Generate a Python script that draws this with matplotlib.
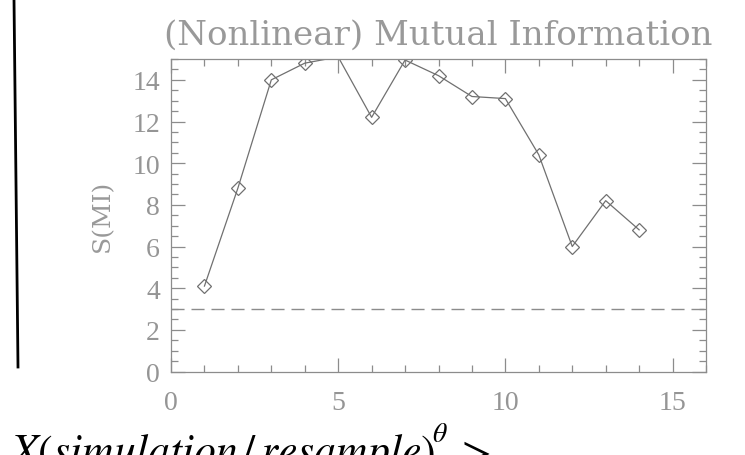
import matplotlib
matplotlib.use("Agg")
import matplotlib.pyplot as plt
from matplotlib.lines import Line2D
from matplotlib.ticker import MultipleLocator
import numpy as np

theta = [1, 2, 3, 4, 5, 6, 7, 8, 9, 10, 11, 12, 13, 14]
smi = [4.1, 8.8, 14.0, 14.8, 15.1, 12.2, 14.95, 14.2, 13.2, 13.1, 10.4, 6.0, 8.2, 6.8]
threshold = 3.0

gray = '#8c8c8c'
linegray = '#707070'

plt.rcParams['mathtext.fontset'] = 'stix'

fig = plt.figure(figsize=(7.45, 4.56), dpi=100)
ax = fig.add_axes([171/745, 1-372.5/456, (706-171)/745, (372.5-60)/456])

x = np.array(theta)
y = np.array(smi)
ax.plot(x, y, color=linegray, lw=0.9)
inside = y <= 15.0
ax.plot(x[inside], y[inside], ls='none', marker='D', ms=7.5, mfc='none',
        mec=linegray, mew=0.9)
ax.axhline(threshold, color=gray, lw=1, dashes=(9.4, 5))

ax.set_xlim(0, 16)
ax.set_ylim(0, 15)
ax.xaxis.set_major_locator(MultipleLocator(5))
ax.xaxis.set_minor_locator(MultipleLocator(1))
ax.yaxis.set_major_locator(MultipleLocator(2))
ax.yaxis.set_minor_locator(MultipleLocator(0.5))
ax.tick_params(which='both', direction='in', top=True, right=True,
               color=gray, width=0.9, labelcolor='#959595')
ax.tick_params(which='major', length=10)
ax.tick_params(which='minor', length=5)
ax.tick_params(axis='x', pad=13)
ax.tick_params(axis='y', pad=8)
for lab in ax.get_xticklabels() + ax.get_yticklabels():
    lab.set_family('Liberation Serif')
    lab.set_fontsize(20)
for s in ax.spines.values():
    s.set_color(gray)
    s.set_linewidth(0.9)

ax.set_title('(Nonlinear) Mutual Information', family='DejaVu Serif',
             fontsize=24.5, color='#999999', pad=11)
fig.text(103/745, 1-216/456, 'S(MI)', rotation=90, ha='center', va='center',
         family='DejaVu Serif', fontsize=18, color='#999999')

# black rule on the left edge
fig.add_artist(Line2D([14/745, 18/745], [1.0, 1-368/456], color='black', lw=2))

fig.text(10/745, -9/456, r'$X(simulation\,/\,resample)$',
         fontsize=31.5, color='black', ha='left', va='baseline')
fig.text(432/745, 1-442/456, r'$\theta$', fontsize=20, color='black',
         ha='left', va='baseline')
fig.text(455/745, -9/456, r'$>$', fontsize=31.5, color='black',
         ha='left', va='baseline')

fig.savefig('out.png', dpi=100)
